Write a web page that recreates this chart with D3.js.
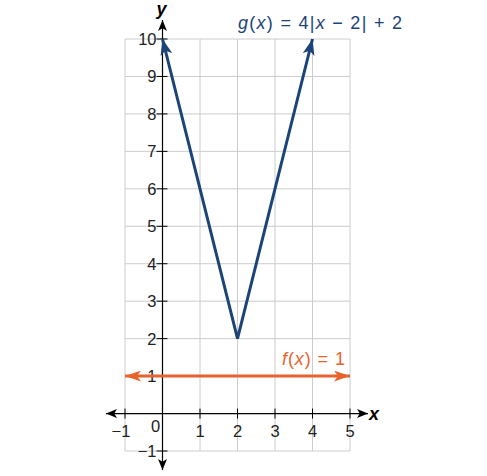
<!DOCTYPE html>
<html>
<head>
<meta charset="utf-8">
<script src="https://cdn.jsdelivr.net/npm/d3@7"></script>
<style>
  body { margin: 0; background: #fff; }
  svg { font-family: "Liberation Sans", Arial, sans-serif; }
</style>
</head>
<body>
<svg id="chart" width="487" height="476"></svg>
<script>
// domain of the grid
var xDomain = [-1, 5];
var yDomain = [-1, 10];
var xTicks = [-1, 1, 2, 3, 4, 5];
var yTicks = [-1, 1, 2, 3, 4, 5, 6, 7, 8, 9, 10];

// g(x) = 4|x - 2| + 2, sampled at the endpoints and vertex
var gX = [0, 2, 4];
var gY = [10, 2, 10];

// f(x) = 1
var fX = [-1, 5];
var fY = [1, 1];

var blue = "#1c4478";
var orange = "#e8632b";

var svg = d3.select("#chart");

var x = d3.scaleLinear().domain(xDomain).range([125, 350]);
var y = d3.scaleLinear().domain(yDomain).range([451, 39]);

// grid
var grid = svg.append("g");
d3.range(xDomain[0], xDomain[1] + 1).forEach(function(v) {
  grid.append("line")
    .attr("x1", x(v)).attr("x2", x(v))
    .attr("y1", y(yDomain[0])).attr("y2", y(yDomain[1]))
    .attr("stroke", "#cccccc").attr("stroke-width", 1);
});
d3.range(yDomain[0], yDomain[1] + 1).forEach(function(v) {
  grid.append("line")
    .attr("x1", x(xDomain[0])).attr("x2", x(xDomain[1]))
    .attr("y1", y(v)).attr("y2", y(v))
    .attr("stroke", "#cccccc").attr("stroke-width", 1);
});

// arrowhead markers
var defs = svg.append("defs");
function marker(id, color, len, half) {
  defs.append("marker")
    .attr("id", id)
    .attr("viewBox", "0 0 " + len + " " + (half * 2))
    .attr("refX", len).attr("refY", half)
    .attr("markerWidth", len).attr("markerHeight", half * 2)
    .attr("markerUnits", "userSpaceOnUse")
    .attr("orient", "auto-start-reverse")
    .append("path")
    .attr("d", "M0,0 L" + len + "," + half + " L0," + (half * 2) + " L" + (len * 0.25) + "," + half + "Z")
    .attr("fill", color);
}
marker("axisArrow", "#000", 11, 4.5);
marker("blueArrow", blue, 16, 6);
marker("orangeArrow", orange, 16, 5.5);

// axes
svg.append("line")
  .attr("x1", 106).attr("x2", 368)
  .attr("y1", y(0)).attr("y2", y(0))
  .attr("stroke", "#000").attr("stroke-width", 1.2)
  .attr("marker-start", "url(#axisArrow)")
  .attr("marker-end", "url(#axisArrow)");
svg.append("line")
  .attr("x1", x(0)).attr("x2", x(0))
  .attr("y1", 470).attr("y2", 20)
  .attr("stroke", "#000").attr("stroke-width", 1.2)
  .attr("marker-start", "url(#axisArrow)")
  .attr("marker-end", "url(#axisArrow)");

// ticks
xTicks.forEach(function(v) {
  svg.append("line")
    .attr("x1", x(v)).attr("x2", x(v))
    .attr("y1", y(0) - 5).attr("y2", y(0) + 5)
    .attr("stroke", "#000").attr("stroke-width", 1);
  svg.append("text")
    .attr("x", x(v) - (v < 0 ? 4 : 0)).attr("y", y(0) + 23)
    .attr("text-anchor", "middle")
    .attr("font-size", 16.5).attr("fill", "#222")
    .text(v < 0 ? "\u2212" + Math.abs(v) : v);
});
yTicks.forEach(function(v) {
  svg.append("line")
    .attr("x1", x(0) - 6).attr("x2", x(0) + 5)
    .attr("y1", y(v)).attr("y2", y(v))
    .attr("stroke", "#000").attr("stroke-width", 1);
  svg.append("text")
    .attr("x", x(0) - 6).attr("y", y(v) + 6)
    .attr("text-anchor", "end")
    .attr("font-size", 16.5).attr("fill", "#222")
    .text(v < 0 ? "\u2212" + Math.abs(v) : v);
});
svg.append("text")
  .attr("x", x(0) - 7).attr("y", y(0) + 18)
  .attr("text-anchor", "middle")
  .attr("font-size", 16.5).attr("fill", "#222")
  .text("0");

// axis names
svg.append("text")
  .attr("x", 369).attr("y", y(0) + 6)
  .attr("font-size", 18).attr("font-style", "italic").attr("font-weight", "bold")
  .text("x");
svg.append("text")
  .attr("x", x(0) - 1).attr("y", 15)
  .attr("text-anchor", "middle")
  .attr("font-size", 18).attr("font-style", "italic").attr("font-weight", "bold")
  .text("y");

// f(x) = 1
var line = d3.line()
  .x(function(d) { return x(d[0]); })
  .y(function(d) { return y(d[1]); });

svg.append("path")
  .attr("d", line(d3.zip(fX, fY)))
  .attr("fill", "none").attr("stroke", orange).attr("stroke-width", 3)
  .attr("marker-start", "url(#orangeArrow)")
  .attr("marker-end", "url(#orangeArrow)");

// g(x) = 4|x - 2| + 2
svg.append("path")
  .attr("d", line(d3.zip(gX, gY)))
  .attr("fill", "none").attr("stroke", blue).attr("stroke-width", 3)
  .attr("stroke-linejoin", "miter")
  .attr("marker-start", "url(#blueArrow)")
  .attr("marker-end", "url(#blueArrow)");

// labels
var gLab = svg.append("text")
  .attr("x", 238).attr("y", 29)
  .attr("font-size", 18).attr("fill", blue)
  .attr("textLength", 164).attr("lengthAdjust", "spacing");
gLab.append("tspan").attr("font-style", "italic").text("g");
gLab.append("tspan").text("(");
gLab.append("tspan").attr("font-style", "italic").text("x");
gLab.append("tspan").text(") = 4|");
gLab.append("tspan").attr("font-style", "italic").text("x");
gLab.append("tspan").text(" \u2212 2| + 2");

var fLab = svg.append("text")
  .attr("x", 282).attr("y", 365)
  .attr("font-size", 18).attr("fill", orange)
  .attr("textLength", 63).attr("lengthAdjust", "spacing");
fLab.append("tspan").attr("font-style", "italic").text("f");
fLab.append("tspan").text("(");
fLab.append("tspan").attr("font-style", "italic").text("x");
fLab.append("tspan").text(") = 1");
</script>
</body>
</html>
